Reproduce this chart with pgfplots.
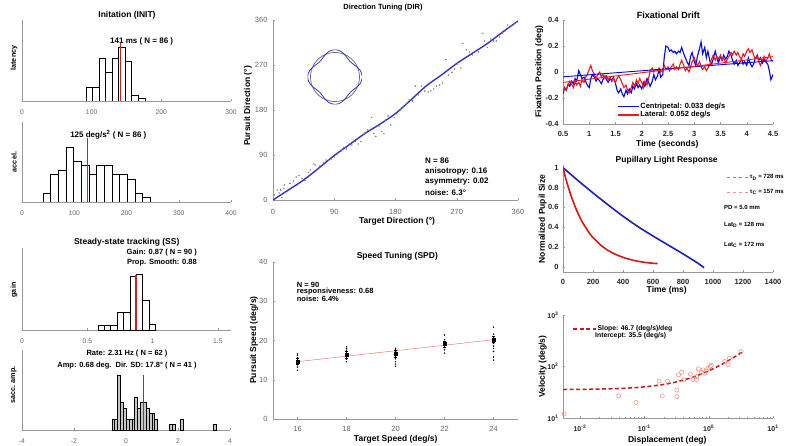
\documentclass[border=0pt]{standalone}
\usepackage{fontspec}
\setmainfont{Liberation Sans}
\usepackage{pgfplots}
\pgfplotsset{compat=1.18}
\usepgfplotslibrary{polar}

\definecolor{axgray}{gray}{0.6}
\definecolor{tkgray}{gray}{0.4}
\definecolor{mblue}{rgb}{0,0,1}
\definecolor{mred}{rgb}{0.95,0.1,0.1}
\definecolor{dirblue}{rgb}{0.2,0.2,0.8}
\definecolor{pupblue}{rgb}{0.12,0.12,0.72}
\definecolor{pupred}{rgb}{0.88,0.08,0.08}
\definecolor{histred}{rgb}{0.85,0.1,0.1}
\definecolor{circ}{rgb}{0.93,0.55,0.45}
\definecolor{fitred}{rgb}{0.78,0.1,0.12}
\definecolor{spdred}{rgb}{0.95,0.55,0.55}

\newcommand{\fs}[1]{\fontsize{#1}{#1}\selectfont}

\pgfplotsset{
  panel/.style={scale only axis, axis lines*=left, axis line style={axgray,-},
    tick style={axgray}, tick align=inside, major tick length=2pt, minor tick length=1pt,
    enlargelimits=false, scaled ticks=false,
    /pgf/number format/assume math mode=true, /pgf/number format/1000 sep={}},
  hist/.style={panel, ytick=\empty, ymin=0,
    xticklabel style={font=\fs{6.8}, text=tkgray, yshift=-5pt}},
  mid/.style={panel, ticklabel style={font=\fs{7.5}, text=tkgray},
    yticklabel style={xshift=-2pt}},
  right/.style={panel, ticklabel style={font=\fs{7.5}\bfseries, text=black!85},
    yticklabel style={xshift=-1pt}, xticklabel style={yshift=-3.5pt}},
  bars/.style={ybar, fill=white, draw=black, line width=0.6pt},
}

\begin{document}
\begin{tikzpicture}
\path[use as bounding box] (0pt,0pt) rectangle (786pt,-446pt);

% ---------------- latency
\begin{axis}[hist, at={(22pt,-101pt)}, anchor=south west, width=209pt, height=81pt,
  xmin=0, xmax=300, ymax=28.7, xtick={0,100,200,300}]
\addplot[bars, bar width=9.4] coordinates {(96.4,5) (105.8,5) (115.2,15) (124.6,10) (134,15) (143.4,19) (152.8,14) (162.2,2) (171.6,1)};
\addplot[histred, line width=0.9pt] coordinates {(141,0) (141,20.6)};
\end{axis}

% ---------------- acceleration
\begin{axis}[hist, at={(22pt,-202pt)}, anchor=south west, width=209pt, height=80pt,
  xmin=0, xmax=400, ymax=17.6, xtick={0,100,200,300,400}]
\addplot[bars, bar width=14.7] coordinates {(47.4,2) (62.1,6) (76.8,7) (91.5,12) (106.2,9) (120.9,8) (135.6,6) (150.3,8) (165,8) (179.7,6) (194.4,6) (209.1,5) (223.8,2) (238.5,1)};
\addplot[histred, line width=0.9pt] coordinates {(125,0) (125,14)};
\end{axis}

% ---------------- gain
\begin{axis}[hist, at={(22pt,-330pt)}, anchor=south west, width=209pt, height=82pt,
  xmin=0, xmax=1.6, ymax=18.8, xtick={0,0.5,1,1.5}]
\addplot[bars, bar width=0.049] coordinates {(0.606,1) (0.655,1) (0.704,1) (0.753,4) (0.802,4) (0.851,12.3) (0.9,12.8) (0.949,6.8) (0.998,1.4)};
\addplot[histred, line width=1.3pt] coordinates {(0.872,0) (0.872,12.5)};
\end{axis}

% ---------------- saccade amplitude
\begin{axis}[hist, at={(22pt,-430pt)}, anchor=south west, width=208pt, height=80pt,
  xmin=-4, xmax=4, ymax=14.7, xtick={-4,-2,0,2,4}]
\addplot[bars, fill=gray!45, bar width=0.11] coordinates {(-0.49,2) (-0.38,2) (-0.27,10) (-0.16,5) (-0.05,4) (0.06,2) (0.17,2) (0.28,2) (0.39,6) (0.5,4) (0.61,5) (0.72,5) (0.83,4) (0.94,3) (1.05,3) (1.16,2) (1.72,1) (1.83,1) (2.13,2) (3.41,1)};
\addplot[histred, line width=0.9pt] coordinates {(0.68,0) (0.68,10.1)};
\end{axis}

% ---------------- direction tuning
\begin{axis}[mid, at={(273pt,-200pt)}, anchor=south west, width=245pt, height=180pt,
  xmin=0, xmax=360, ymin=0, ymax=360, xtick={0,90,180,270,360}, ytick={0,90,180,270,360},
  xticklabel style={yshift=-5.5pt}]
\addplot[only marks, mark=*, mark size=0.5pt, gray] coordinates {
(2,10) (6,20) (9,14) (11,20) (13,5) (16,23) (17,30) (21,17) (25,33) (30,38) (34,46) (38,49) (43,43) (47,39) (52,55) (55,60) (60,72) (62,70) (69,68) (74,74) (78,80) (82,80) (86,82) (90,86) (95,92) (100,98) (104,105) (108,102) (113,113) (116,110) (121,117) (125,112) (129,117) (135,134) (139,140) (145,165) (148,133) (151,127) (156,148) (160,137) (163,133) (165,160) (169,168) (173,150) (178,165) (182,172) (187,180) (191,186) (196,192) (200,200) (205,198) (209,228) (214,210) (218,228) (223,218) (228,216) (232,218) (236,222) (240,228) (245,230) (249,234) (254,281) (258,250) (263,255) (267,262) (271,272) (276,264) (279,313) (284,300) (289,296) (293,290) (298,298) (302,296) (308,333) (311,318) (315,305) (320,322) (324,318) (328,318) (333,326) (337,334) (341,338) (345,350) (350,348) (354,352) (358,356)};
\addplot[dirblue, line width=1.4pt, smooth] coordinates {
(0,0) (22.5,20) (45,40) (67.5,64) (90,89) (112.5,111) (135,133) (157.5,152) (180,173) (202.5,200) (225,228) (247.5,250) (270,273) (292.5,293) (315,313) (337.5,336) (360,358)};
\end{axis}

% inset: polar tuning shape
\begin{polaraxis}[at={(335pt,-77pt)}, anchor=center, width=55pt, height=55pt, scale only axis,
  hide axis, ymin=0, ymax=1.12]
\addplot[gray!80!black, line width=0.7pt, smooth] coordinates {
(0,1) (15,1) (30,1) (45,1) (60,1) (75,1) (90,1) (105,1) (120,1) (135,1) (150,1) (165,1) (180,1) (195,1) (210,1) (225,1) (240,1) (255,1) (270,1) (285,1) (300,1) (315,1) (330,1) (345,1) (360,1)};
\addplot[dirblue, line width=0.8pt, smooth] coordinates {
(0,1.12) (15,1.06) (30,0.94) (45,0.88) (60,0.94) (75,1.06) (90,1.12) (105,1.06) (120,0.94) (135,0.88) (150,0.94) (165,1.06) (180,1.12) (195,1.06) (210,0.94) (225,0.88) (240,0.94) (255,1.06) (270,1.12) (285,1.06) (300,0.94) (315,0.88) (330,0.94) (345,1.06) (360,1.12)};
\end{polaraxis}

% ---------------- speed tuning
\begin{axis}[mid, at={(273pt,-419pt)}, anchor=south west, width=245pt, height=157pt,
  xmin=15, xmax=25, ymin=0, ymax=40, xtick={16,18,20,22,24}, ytick={0,10,20,30,40},
  xticklabel style={yshift=-4pt}]
\addplot[spdred, line width=0.6pt] coordinates {(16,14.6) (24,20.2)};
\addplot[only marks, mark=*, mark size=0.5pt, black] coordinates {
(16,12.4) (16,13.2) (16,13.8) (16,14.3) (16,15) (16,15.6) (16,16.2) (16,16.6)
(18,14.6) (18,15.2) (18,15.8) (18,16.8) (18,17.4) (18,17.9) (18,18.4)
(20,13.4) (20,14) (20,14.6) (20,15.3) (20,15.9) (20,16.5) (20,17.2) (20,17.7) (20,18)
(22,16.8) (22,17.6) (22,18.2) (22,18.8) (22,19.5) (22,20.2) (22,21.4)
(24,15) (24,15.8) (24,17.2) (24,18) (24,18.6) (24,19.3) (24,20) (24,20.8) (24,21.6) (24,23.4)};
\addplot[black, only marks, mark=square*, mark size=1.6pt,
  error bars/.cd, y dir=both, y explicit, error bar style={line width=0.9pt}] coordinates {
(16,14.7) +- (0,0.8) (18,16.4) +- (0,0.8) (20,16.7) +- (0,0.9) (22,19.1) +- (0,0.8) (24,20.3) +- (0,0.8)};
\end{axis}

% ---------------- fixational drift
\begin{axis}[right, at={(563pt,-124pt)}, anchor=south west, width=210pt, height=104pt,
  xmin=0.5, xmax=4.5, ymin=-0.4, ymax=0.4,
  xtick={0.5,1,1.5,2,2.5,3,3.5,4,4.5}, ytick={-0.4,-0.2,0,0.2,0.4},
  legend style={at={(0.245,0.23)}, anchor=north west, draw=none, fill=none,
    font=\fs{7.5}\bfseries, nodes={inner sep=0.6pt}, row sep=0.5pt},
  legend cell align=left,
  legend image code/.code={\draw[#1] (0pt,0pt) -- (21pt,0pt);}]
\addplot[mblue, line width=1.1pt] coordinates {
(0.50,-0.17) (0.53,-0.12) (0.56,-0.14) (0.60,-0.09) (0.63,-0.11) (0.66,-0.07) (0.70,-0.09) (0.73,-0.05) (0.76,-0.07) (0.80,0.01) (0.83,-0.02) (0.86,-0.05) (0.90,-0.04) (0.93,-0.07) (0.96,-0.10) (1.00,-0.12) (1.03,-0.05) (1.06,-0.02) (1.10,-0.04) (1.13,-0.07) (1.16,-0.05) (1.20,-0.07) (1.23,-0.09) (1.26,-0.06) (1.30,-0.03) (1.33,-0.06) (1.36,-0.08) (1.40,-0.05) (1.43,-0.07) (1.46,-0.04) (1.50,-0.09) (1.53,-0.14) (1.56,-0.16) (1.60,-0.13) (1.63,-0.17) (1.66,-0.19) (1.70,-0.14) (1.73,-0.17) (1.76,-0.13) (1.80,-0.16) (1.83,-0.11) (1.86,-0.13) (1.90,-0.09) (1.93,-0.12) (1.96,-0.10) (2.00,-0.13) (2.03,-0.08) (2.06,-0.11) (2.10,-0.05) (2.13,-0.08) (2.16,-0.11) (2.20,-0.07) (2.23,-0.02) (2.26,-0.06) (2.30,-0.03) (2.33,0.02) (2.36,-0.04) (2.40,-0.02) (2.43,0.12) (2.46,0.20) (2.50,0.19) (2.53,0.16) (2.56,0.17) (2.60,0.15) (2.63,0.16) (2.66,0.14) (2.70,0.16) (2.73,0.15) (2.76,0.19) (2.80,0.14) (2.83,0.11) (2.86,0.08) (2.90,0.05) (2.93,0.12) (2.96,0.15) (3.00,0.08) (3.03,0.05) (3.06,0.12) (3.10,0.18) (3.13,0.23) (3.16,0.14) (3.20,0.19) (3.23,0.11) (3.26,0.16) (3.30,0.08) (3.33,0.06) (3.36,0.10) (3.40,0.16) (3.43,0.11) (3.46,0.07) (3.50,0.12) (3.53,0.09) (3.56,0.13) (3.60,0.10) (3.63,0.12) (3.66,0.16) (3.70,0.13) (3.73,0.09) (3.76,0.06) (3.80,0.09) (3.83,0.05) (3.86,0.07) (3.90,0.10) (3.93,0.06) (3.96,0.08) (4.00,0.05) (4.03,0.11) (4.06,0.07) (4.10,0.04) (4.13,0.06) (4.16,0.10) (4.20,0.13) (4.23,0.09) (4.26,0.11) (4.30,0.07) (4.33,0.10) (4.36,0.08) (4.40,0.06) (4.43,0.01) (4.46,-0.06) (4.48,-0.04) (4.50,-0.02)};
\addlegendentry{Centripetal: 0.033 deg/s}
\addplot[mred, line width=1.1pt] coordinates {
(0.50,-0.15) (0.53,-0.12) (0.56,-0.14) (0.60,-0.10) (0.63,-0.07) (0.66,-0.09) (0.70,-0.12) (0.73,-0.07) (0.76,-0.10) (0.80,-0.08) (0.83,-0.11) (0.86,-0.06) (0.90,-0.08) (0.93,-0.04) (0.96,-0.02) (1.00,0.02) (1.03,0.05) (1.06,0.01) (1.10,-0.02) (1.13,-0.05) (1.16,-0.02) (1.20,0.00) (1.23,-0.04) (1.26,-0.02) (1.30,-0.05) (1.33,-0.03) (1.36,-0.06) (1.40,-0.04) (1.43,-0.07) (1.46,-0.05) (1.50,-0.08) (1.53,-0.05) (1.56,-0.03) (1.60,-0.06) (1.63,-0.09) (1.66,-0.12) (1.70,-0.10) (1.73,-0.14) (1.76,-0.16) (1.80,-0.12) (1.83,-0.08) (1.86,-0.11) (1.90,-0.06) (1.93,-0.09) (1.96,-0.05) (2.00,-0.08) (2.03,-0.12) (2.06,-0.07) (2.10,-0.10) (2.13,-0.05) (2.16,0.01) (2.20,0.03) (2.23,0.00) (2.26,0.02) (2.30,0.01) (2.33,0.03) (2.36,0.00) (2.40,0.02) (2.43,0.05) (2.46,0.02) (2.50,0.04) (2.53,0.01) (2.56,0.04) (2.60,0.06) (2.63,0.02) (2.66,0.04) (2.70,0.02) (2.73,0.06) (2.76,0.09) (2.80,0.05) (2.83,0.01) (2.86,0.03) (2.90,0.00) (2.93,0.04) (2.96,0.08) (3.00,0.11) (3.03,0.07) (3.06,0.05) (3.10,0.08) (3.13,0.04) (3.16,0.02) (3.20,0.04) (3.23,0.01) (3.26,0.03) (3.30,0.06) (3.33,0.10) (3.36,0.13) (3.40,0.09) (3.43,0.12) (3.46,0.10) (3.50,0.13) (3.53,0.09) (3.56,0.11) (3.60,0.07) (3.63,0.10) (3.66,0.12) (3.70,0.15) (3.73,0.13) (3.76,0.16) (3.80,0.13) (3.83,0.15) (3.86,0.12) (3.90,0.10) (3.93,0.14) (3.96,0.12) (4.00,0.16) (4.03,0.18) (4.06,0.15) (4.10,0.17) (4.13,0.13) (4.16,0.10) (4.20,0.12) (4.23,0.08) (4.26,0.05) (4.30,0.09) (4.33,0.12) (4.36,0.08) (4.40,0.11) (4.43,0.14) (4.46,0.10) (4.50,0.08)};
\addlegendentry{Lateral: 0.052 deg/s}
\addplot[mblue, line width=0.9pt, forget plot] coordinates {(0.5,-0.037) (4.5,0.087)};
\addplot[mred, line width=0.9pt, forget plot] coordinates {(0.5,-0.080) (4.5,0.118)};
\end{axis}

% ---------------- pupillary light response
\begin{axis}[right, at={(563pt,-271.7pt)}, anchor=south west, width=210pt, height=107pt,
  xmin=0, xmax=1400, ymin=-0.05, ymax=1.03,
  xtick={0,200,400,600,800,1000,1200,1400}, ytick={0,0.2,0.4,0.6,0.8,1},
  xticklabel style={yshift=-1pt},
  legend style={at={(0.765,0.935)}, anchor=north west, draw=none, fill=none,
    font=\fs{6}\bfseries, nodes={inner sep=0.6pt}, row sep=8pt},
  legend cell align=left,
  legend image code/.code={\draw[#1] (0pt,0pt) -- (22pt,0pt);}]
\addplot[pupblue, line width=1.6pt, smooth, forget plot] coordinates {
(0,1) (100,0.87) (200,0.745) (300,0.625) (400,0.51) (500,0.405) (600,0.31) (700,0.22) (800,0.13) (900,0.035) (940,-0.01)};
\addplot[pupred, line width=1.6pt, smooth, forget plot] coordinates {
(0,1) (20,0.88) (40,0.78) (60,0.69) (80,0.61) (100,0.54) (125,0.46) (150,0.40) (175,0.34) (200,0.295) (250,0.22) (300,0.165) (350,0.125) (400,0.095) (450,0.072) (500,0.055) (550,0.043) (600,0.035) (630,0.032)};
\addlegendimage{blue!50, dashed, line width=0.4pt}
\addlegendentry{τ\textsubscript{D} = 728 ms}
\addlegendimage{red!45, dashed, line width=0.4pt}
\addlegendentry{τ\textsubscript{C} = 157 ms}
\end{axis}

% ---------------- main sequence
\begin{axis}[right, at={(563pt,-418pt)}, anchor=south west, width=210pt, height=103pt,
  xmode=log, ymode=log, xmin=0.00545, xmax=10, ymin=10, ymax=1000,
  xtick={0.01,0.1,1,10}, ytick={10,100,1000},
  xticklabels={{10\textsuperscript{-2}},{10\textsuperscript{-1}},{10\textsuperscript{0}},{10\textsuperscript{1}}},
  yticklabels={{10\textsuperscript{1}},{10\textsuperscript{2}},{10\textsuperscript{3}}},
  ticklabel style={font=\fs{7}\bfseries},
  legend style={at={(0.03,0.864)}, anchor=west, draw=none, fill=none,
    font=\fs{6.8}\bfseries, nodes={inner sep=0.6pt}},
  legend image code/.code={\draw[#1] (0pt,0pt) -- (23pt,0pt);}]
\addplot[only marks, mark=o, mark size=2.1pt, circ, line width=0.5pt, forget plot] coordinates {
(0.0057,12) (0.04,27) (0.074,20) (0.17,52) (0.19,27) (0.23,52) (0.32,35) (0.32,26) (0.34,69) (0.38,77) (0.41,55) (0.52,71) (0.57,56) (0.65,64) (0.65,56) (0.69,90) (0.77,77) (0.82,86) (0.87,74) (0.92,82) (0.98,93) (1.06,100) (1.1,105) (1.78,125) (2.0,108) (2.1,145) (3.2,195)};
\addplot[fitred, line width=1.5pt, dash pattern=on 4pt off 2.5pt, smooth] coordinates {
(0.00545,35.75) (0.01,35.97) (0.02,36.43) (0.05,37.84) (0.1,40.17) (0.2,44.84) (0.3,49.51) (0.5,58.85) (0.7,68.19) (1,82.2) (1.5,105.55) (2,128.9) (2.5,152.25) (3,175.6) (3.5,198.95)};
\addlegendentry{Slope: 46.7 (deg/s)/deg}
\end{axis}

% ---------------- text
\tikzset{tt/.style={font=\fs{8.5}\bfseries, inner sep=0pt}, yl/.style={tt, rotate=90}}
\node[tt] at (127pt,-15pt) {Initation (INIT)};
\node[tt, font=\fs{8}\bfseries] at (141.7pt,-41.7pt) {141 ms ( N = 86 )};
\node[yl, font=\fs{7.2}\bfseries] at (14pt,-58pt) {latency};
\node[tt, font=\fs{8}\bfseries] at (108.3pt,-135pt) {125 deg/s\textsuperscript{2} ( N = 86 )};
\node[yl, font=\fs{7.2}\bfseries] at (14pt,-162pt) {accel.};
\node[tt] at (126.7pt,-242.3pt) {Steady-state tracking (SS)};
\node[tt, font=\fs{7.5}\bfseries, anchor=east] at (197pt,-252.7pt) {Gain: 0.87 ( N = 90 )};
\node[tt, font=\fs{7.5}\bfseries, anchor=east] at (197pt,-262.3pt) {Prop. Smooth: 0.88};
\node[yl, font=\fs{7.2}\bfseries] at (14pt,-290pt) {gain};
\node[tt, font=\fs{7.5}\bfseries] at (127pt,-353.3pt) {Rate: 2.31 Hz ( N = 62 )};
\node[tt, font=\fs{7.5}\bfseries] at (127pt,-365.3pt) {Amp: 0.68 deg.\ \ Dir. SD: 17.8° ( N = 41 )};
\node[yl, font=\fs{7.2}\bfseries] at (14pt,-385pt) {sacc. amp.};

\node[tt, font=\fs{7.5}\bfseries] at (383pt,-7.5pt) {Direction Tuning (DIR)};
\node[tt, font=\fs{8}\bfseries, anchor=west] at (425pt,-161pt) {N = 86};
\node[tt, font=\fs{8}\bfseries, anchor=west] at (425pt,-171.7pt) {anisotropy: 0.16};
\node[tt, font=\fs{8}\bfseries, anchor=west] at (425pt,-182pt) {asymmetry: 0.02};
\node[tt, font=\fs{8}\bfseries, anchor=west] at (425pt,-192.3pt) {noise: 6.3°};
\node[tt] at (397pt,-221pt) {Target Direction (°)};
\node[yl] at (248pt,-106pt) {Pursuit Direction (°)};

\node[tt] at (397.3pt,-256.7pt) {Speed Tuning (SPD)};
\node[tt, font=\fs{7.5}\bfseries, anchor=west] at (296.7pt,-285pt) {N = 90};
\node[tt, font=\fs{7.5}\bfseries, anchor=west] at (296.7pt,-292pt) {responsiveness: 0.68};
\node[tt, font=\fs{7.5}\bfseries, anchor=west] at (296.7pt,-299pt) {noise: 6.4\%};
\node[tt] at (395.7pt,-439.3pt) {Target Speed (deg/s)};
\node[yl] at (254pt,-340pt) {Pursuit Speed (deg/s)};

\node[tt, font=\fs{9}\bfseries] at (668.3pt,-15pt) {Fixational Drift};
\node[tt] at (667.3pt,-144pt) {Time (seconds)};
\node[yl] at (539.3pt,-71.7pt) {Fixation Position (deg)};

\node[tt] at (666.7pt,-160.5pt) {Pupillary Light Response};
\node[tt] at (666.7pt,-290.7pt) {Time (ms)};
\node[yl] at (542.7pt,-219pt) {Normalized Pupil Size};
\node[tt, font=\fs{6}\bfseries, anchor=west] at (724pt,-207.3pt) {PD = 5.0 mm};
\node[tt, font=\fs{6}\bfseries, anchor=west] at (724pt,-225pt) {Lat\textsubscript{D} = 128 ms};
\node[tt, font=\fs{6}\bfseries, anchor=west] at (724pt,-245pt) {Lat\textsubscript{C} = 172 ms};

\node[tt, font=\fs{6.8}\bfseries, anchor=west] at (595pt,-336pt) {Intercept: 35.5 (deg/s)};
\node[tt] at (667.3pt,-440.5pt) {Displacement (deg)};
\node[yl] at (542.7pt,-366.7pt) {Velocity (deg/s)};
\end{tikzpicture}
\end{document}
